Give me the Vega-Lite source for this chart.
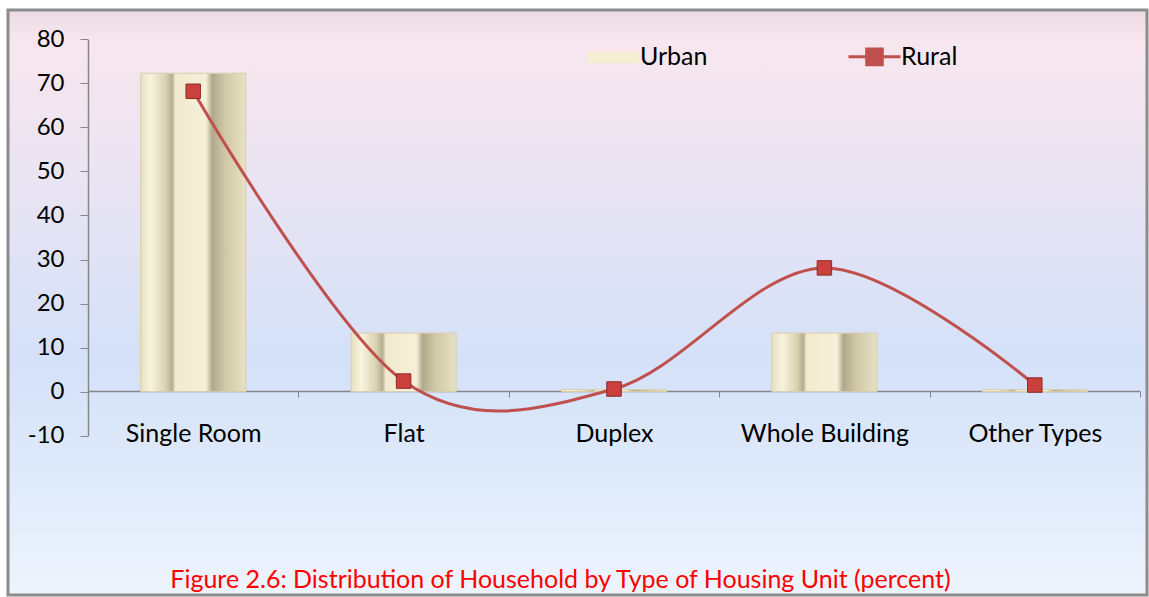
{
  "$schema": "https://vega.github.io/schema/vega-lite/v6.json",
  "width": 1139,
  "height": 585,
  "autosize": {"type": "none"},
  "padding": {"left": 8, "top": 10, "right": 2, "bottom": 2},
  "background": "white",
  "config": {
    "font": "Lato",
    "view": {
      "stroke": "#8c8c8c",
      "strokeWidth": 3,
      "fill": {
        "gradient": "linear", "x1": 0, "y1": 0, "x2": 0, "y2": 1,
        "stops": [
          {"offset": 0, "color": "#ecdbe2"},
          {"offset": 0.05, "color": "#f8e6ee"},
          {"offset": 0.3, "color": "#e9e4f3"},
          {"offset": 0.6, "color": "#d4e1f8"},
          {"offset": 0.88, "color": "#e4eefb"},
          {"offset": 1, "color": "#eef4fd"}
        ]
      }
    }
  },
  "title": {
    "text": "Figure 2.6: Distribution of Household by Type of Housing Unit (percent)",
    "orient": "bottom",
    "anchor": "middle",
    "offset": -27,
    "dx": -17,
    "color": "#ff0000",
    "font": "Lato",
    "fontSize": 25,
    "fontWeight": "normal"
  },
  "data": {
    "values": [
      {"type": "Single Room", "urban": 72.3, "rural": 68.2},
      {"type": "Flat", "urban": 13.3, "rural": 2.4},
      {"type": "Duplex", "urban": 0.5, "rural": 0.6},
      {"type": "Whole Building", "urban": 13.3, "rural": 28.1},
      {"type": "Other Types", "urban": 0.5, "rural": 1.5}
    ]
  },
  "encoding": {
    "x": {
      "field": "type",
      "type": "nominal",
      "sort": null,
      "scale": {"range": [80, 1132], "paddingInner": 0, "paddingOuter": 0},
      "axis": {
        "title": null,
        "orient": "bottom",
        "offset": -204,
        "domainColor": "#868686",
        "domainWidth": 1.5,
        "tickColor": "#868686",
        "tickSize": 6,
        "tickBand": "extent",
        "labelAngle": 0,
        "labelFont": "Lato",
        "labelFontSize": 25,
        "labelColor": "black",
        "labelPadding": 24
      }
    }
  },
  "layer": [
    {
      "mark": {
        "type": "bar",
        "width": {"band": 0.5},
        "color": {
          "gradient": "linear", "x1": 0, "y1": 0, "x2": 1, "y2": 0,
          "stops": [
            {"offset": 0, "color": "#e6dfc2"},
            {"offset": 0.1, "color": "#f8f3de"},
            {"offset": 0.24, "color": "#d9d1b0"},
            {"offset": 0.3, "color": "#b4ad90"},
            {"offset": 0.33, "color": "#f1ead0"},
            {"offset": 0.62, "color": "#f6f0d9"},
            {"offset": 0.68, "color": "#b0a98c"},
            {"offset": 0.8, "color": "#cfc7a7"},
            {"offset": 1, "color": "#e8e1c4"}
          ]
        },
        "stroke": "#d8cfac",
        "strokeWidth": 1
      },
      "encoding": {
        "y": {
          "field": "urban",
          "type": "quantitative",
          "scale": {"domain": [-10, 80], "range": [425.7, 29.3], "nice": false, "zero": false},
          "axis": {
            "title": null,
            "orient": "left",
            "offset": -80,
            "values": [-10, 0, 10, 20, 30, 40, 50, 60, 70, 80],
            "labelExpr": "'' + datum.value",
            "grid": false,
            "domainColor": "#868686",
            "domainWidth": 1.5,
            "tickColor": "#868686",
            "tickSize": 8,
            "labelFont": "Lato",
            "labelFontSize": 24,
            "labelColor": "black",
            "labelPadding": 16
          }
        }
      }
    },
    {
      "mark": {"type": "line", "interpolate": "cardinal", "tension": 0, "strokeWidth": 3},
      "encoding": {
        "y": {"field": "rural", "type": "quantitative"},
        "color": {
          "datum": "Rural",
          "type": "nominal",
          "scale": {"domain": ["Urban", "Rural"], "range": ["#f3ecd0", "#c0504d"]},
          "legend": {
            "orient": "none",
            "legendX": 593,
            "legendY": 34,
            "direction": "horizontal",
            "title": null,
            "labelFont": "Lato",
            "labelFontSize": 25,
            "labelColor": "black",
            "symbolSize": 2704,
            "columnPadding": 134,
            "labelOffset": 14,
            "encode": {
              "symbols": {
                "update": {
                  "shape": {"signal": "datum.value === 'Urban' ? 'M-1,-0.2H1V0.2H-1Z' : 'M-1,0H-0.3M0.3,0H1M-0.3,-0.3H0.3V0.3H-0.3Z'"},
                  "fill": {"signal": "datum.value === 'Urban' ? '#f4eed3' : '#c0504d'"},
                  "stroke": {"signal": "datum.value === 'Urban' ? '#c9c09c' : '#c0504d'"},
                  "strokeWidth": {"signal": "datum.value === 'Urban' ? 1 : 3"},
                  "opacity": {"value": 1}
                }
              }
            }
          }
        }
      }
    },
    {
      "mark": {"type": "point", "shape": "square", "filled": true, "size": 210, "fill": "#c9403c", "stroke": "#8e2b29", "strokeWidth": 1, "opacity": 1},
      "encoding": {
        "y": {"field": "rural", "type": "quantitative"}
      }
    }
  ]
}
